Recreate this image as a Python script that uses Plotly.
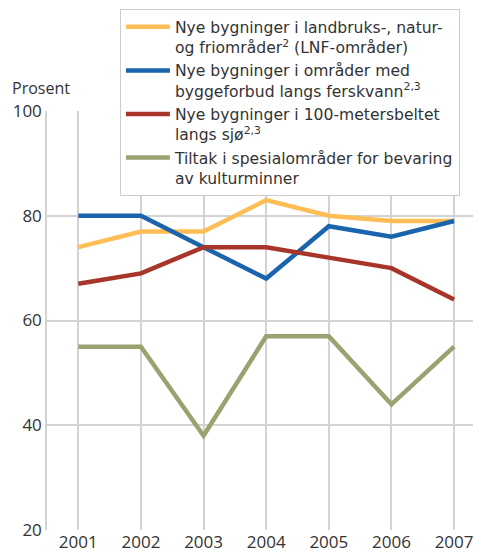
import plotly.graph_objects as go

years = [2001, 2002, 2003, 2004, 2005, 2006, 2007]

lnf = [74, 77, 77, 83, 80, 79, 79]
ferskvann = [80, 80, 74, 68, 78, 76, 79]
sjo = [67, 69, 74, 74, 72, 70, 64]
kultur = [55, 55, 38, 57, 57, 44, 55]

names = [
    "Nye bygninger i landbruks-, natur-<br>og friområder<sup>2</sup> (LNF-områder)",
    "Nye bygninger i områder med<br>byggeforbud langs ferskvann<sup>2,3</sup>",
    "Nye bygninger i 100-metersbeltet<br>langs sjø<sup>2,3</sup>",
    "Tiltak i spesialområder for bevaring<br>av kulturminner",
]
colors = ["#FFBE55", "#1A64AE", "#A8352A", "#9AA272"]

fig = go.Figure()
for name, vals, col in zip(names, [lnf, ferskvann, sjo, kultur], colors):
    fig.add_trace(go.Scatter(
        x=years, y=vals, mode="lines", name=name,
        line=dict(color=col, width=4.5),
    ))

# the page body has an 8px margin, so the figure is sized to fit inside it
fig.update_layout(
    width=473, height=545,
    margin=dict(l=39, r=0, t=103, b=23),
    plot_bgcolor="white", paper_bgcolor="white",
    font=dict(family="Open Sans", size=16, color="#333333"),
    showlegend=True,
    legend=dict(
        x=0.168, y=1.243, xanchor="left", yanchor="top",
        bgcolor="white", bordercolor="#cccccc", borderwidth=1,
        font=dict(family="DejaVu Sans", size=15.6, color="#333333"),
        valign="top", traceorder="normal", itemwidth=44,
    ),
    xaxis=dict(
        range=[2000.5, 2007.43], tickvals=years,
        showgrid=True, gridcolor="#d3d3d3", gridwidth=1.5,
        zeroline=False, showline=False, ticks="",
        tickfont=dict(size=17),
    ),
    yaxis=dict(
        range=[20, 100], tickvals=[20, 40, 60, 80, 100],
        showgrid=True, gridcolor="#d3d3d3", gridwidth=1.5,
        zeroline=False, showline=True, linecolor="#d3d3d3", linewidth=1.5,
        ticks="", tickfont=dict(size=17),
    ),
    annotations=[dict(
        text="Prosent", xref="paper", yref="paper",
        x=-0.085, y=1.055, xanchor="left", yanchor="middle",
        showarrow=False, font=dict(size=16, color="#333333"),
    )],
)

fig.write_html("out.html")
